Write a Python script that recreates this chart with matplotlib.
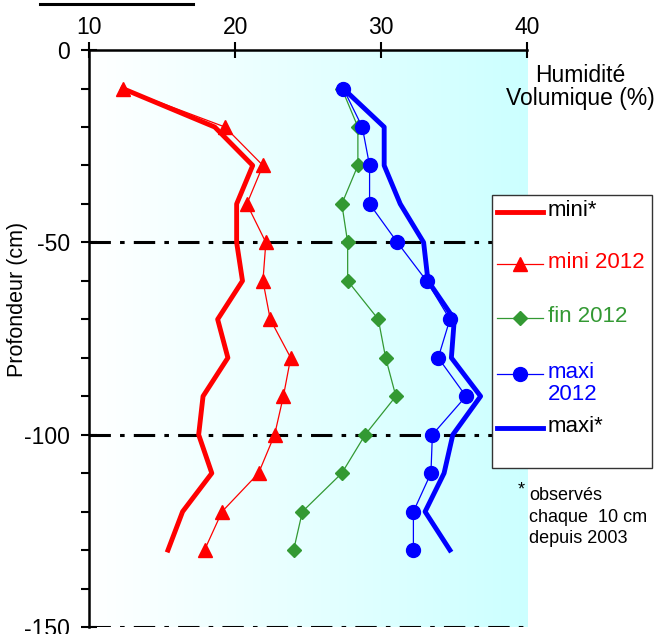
import numpy as np
import matplotlib
matplotlib.use("Agg")
import matplotlib.pyplot as plt
from matplotlib.colors import LinearSegmentedColormap
from matplotlib.lines import Line2D
from matplotlib.patches import Rectangle
from matplotlib.ticker import MultipleLocator

plt.rcParams["font.family"] = ["Liberation Sans", "DejaVu Sans"]
plt.rcParams["axes.unicode_minus"] = False

# profondeurs (cm)
profondeur = [-10, -20, -30, -40, -50, -60, -70, -80, -90, -100, -110, -120, -130]

# humidité volumique (%)
mini_star = [12.3, 18.6, 21.2, 20.1, 20.1, 20.5, 18.8, 19.5, 17.8, 17.5, 18.4, 16.4, 15.4]
mini_2012 = [12.3, 19.3, 21.9, 20.8, 22.1, 21.9, 22.4, 23.8, 23.3, 22.7, 21.6, 19.1, 17.9]
fin_2012 = [27.3, 28.4, 28.4, 27.3, 27.7, 27.7, 29.8, 30.3, 31.0, 28.9, 27.3, 24.6, 24.0]
maxi_2012 = [27.4, 28.7, 29.2, 29.2, 31.1, 33.1, 34.7, 33.9, 35.8, 33.5, 33.4, 32.2, 32.2]
maxi_star = [27.4, 30.2, 30.2, 31.3, 32.9, 33.2, 35.0, 34.8, 36.8, 34.9, 34.3, 33.0, 34.7]

x_ticks = [10, 20, 30, 40]
y_ticks = [0, -50, -100, -150]
ref_lines = [-50, -100, -150]

RED = "#ff0000"
GREEN = "#339933"
BLUE = "#0000ff"
W, H = 660, 634


def fx(px):
    return px / W


def fy(py):
    return 1 - py / H


fig = plt.figure(figsize=(6.6, 6.34), dpi=100)
ax = fig.add_axes([0.135, 0.011, 0.664, 0.910])

# fond dégradé blanc -> cyan
cmap = LinearSegmentedColormap.from_list("fond", ["#ffffff", "#ccffff"])
grad = np.linspace(0, 1, 256).reshape(1, -1)
ax.imshow(grad, cmap=cmap, aspect="auto", extent=[10, 40, -150, 0], zorder=0)

for y in ref_lines:
    ax.axhline(y, color="black", lw=2.2, ls=(0, (7, 3, 1.5, 3)), zorder=1)

l_mini = ax.plot(mini_star, profondeur, color=RED, lw=3.5, zorder=2)[0]
l_mini12 = ax.plot(mini_2012, profondeur, color=RED, lw=0.9, marker="^",
                   ms=10, zorder=3)[0]
l_fin12 = ax.plot(fin_2012, profondeur, color=GREEN, lw=0.9, marker="D",
                  ms=7, zorder=3)[0]
l_maxi12 = ax.plot(maxi_2012, profondeur, color=BLUE, lw=0.9, marker="o",
                   ms=10, zorder=3)[0]
l_maxi = ax.plot(maxi_star, profondeur, color=BLUE, lw=3.5, zorder=2)[0]

ax.set_xlim(10, 40)
ax.set_ylim(-150, 0)
ax.xaxis.tick_top()
ax.set_xticks(x_ticks)
ax.set_yticks(y_ticks)
ax.yaxis.set_minor_locator(MultipleLocator(10))
ax.tick_params(axis="both", which="major", direction="inout", length=12,
               width=1.5, labelsize=16.5, colors="black")
ax.tick_params(axis="x", pad=2)
ax.tick_params(axis="y", pad=8)
ax.tick_params(axis="y", which="minor", direction="out", length=6, width=1.5)
for side in ("right", "bottom"):
    ax.spines[side].set_visible(False)
for side in ("left", "top"):
    ax.spines[side].set_linewidth(1.8)

ax.set_ylabel("Profondeur (cm)", fontsize=15.5)
ax.yaxis.set_label_coords((28 - 89) / 438, (627 - 299) / 577)

# légende (style tableur : symbole aligné sur la première ligne)
fig.add_artist(Rectangle((fx(492), fy(468)), fx(652) - fx(492), fy(195) - fy(468),
                         transform=fig.transFigure, facecolor="white",
                         edgecolor="#333333", lw=1.0, zorder=5))
entries = [
    (l_mini, "mini*", "black", 212),
    (l_mini12, "mini 2012", RED, 264),
    (l_fin12, "fin 2012", GREEN, 318),
    (l_maxi12, "maxi\n2012", BLUE, 374),
    (l_maxi, "maxi*", "black", 428),
]
for line, label, tcol, py in entries:
    fig.add_artist(Line2D([fx(497), fx(543)], [fy(py), fy(py)],
                          transform=fig.transFigure, color=line.get_color(),
                          lw=line.get_linewidth(), zorder=6))
    if line.get_marker() not in (None, "None", ""):
        fig.add_artist(Line2D([fx(520)], [fy(py)], transform=fig.transFigure,
                              color=line.get_color(), marker=line.get_marker(),
                              ms=line.get_markersize(), lw=0, zorder=7))
    fig.text(fx(548), fy(py - 12), label, ha="left", va="top", color=tcol,
             fontsize=16, linespacing=1.05, zorder=8)

fig.text(fx(580), fy(87), "Humidité\nVolumique (%)", ha="center",
         va="center", fontsize=16.5, linespacing=1.0)

fig.text(fx(518), fy(490), "*", ha="left", va="center", fontsize=13)
fig.text(fx(529), fy(517), "observés\nchaque  10 cm\ndepuis 2003",
         ha="left", va="center", fontsize=13, linespacing=1.35)

# trait souligné du titre coupé en haut
fig.add_artist(Line2D([fx(40), fx(193)], [fy(4), fy(4)],
                      transform=fig.transFigure, color="black", lw=2.2))

fig.savefig("out.png", dpi=100)
